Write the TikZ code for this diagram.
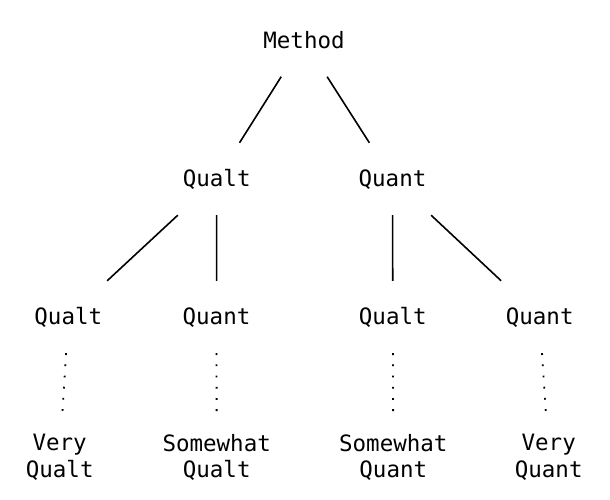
\documentclass[tikz,border=0pt]{standalone}
\usepackage{fontspec}
\setmonofont{DejaVu Sans Mono}
\begin{document}
\begin{tikzpicture}[x=1pt,y=-1pt,
  lab/.style={font=\ttfamily\fontsize{22.5}{26.6}\selectfont, text height=15.7pt, text depth=0pt,
    inner sep=0pt, minimum height=72pt, minimum width=120pt},
  leaf/.style={font=\ttfamily\fontsize{22.5}{26.6}\selectfont, align=center, inner xsep=0pt,
    inner ysep=23pt, anchor=north},
  edge/.style={line width=1.6pt},
  dots/.style={line width=1.8pt, dash pattern=on 1.8pt off 9.4pt}]
\useasboundingbox (0,0) rectangle (610,500);
\node[lab] (m) at (304,40.5) {Method};
\node[lab] (a) at (216.7,179) {Qualt};
\node[lab] (b) at (392.5,179) {Quant};
\node[lab] (aa) at (68.3,317) {Qualt};
\node[lab] (ab) at (216.5,317) {Quant};
\node[lab] (ba) at (392.8,317) {Qualt};
\node[lab] (bb) at (539.7,317) {Quant};
\node[leaf] (aal) at (59.7,411) {Very\\Qualt};
\node[leaf] (abl) at (216.7,411) {Somewhat\\Qualt};
\node[leaf] (bal) at (393.3,411) {Somewhat\\Quant};
\node[leaf] (bbl) at (548.7,411) {Very\\Quant};
\draw[edge] (m) -- (a);
\draw[edge] (m) -- (b);
\draw[edge] (a) -- (aa);
\draw[edge] (a) -- (ab);
\draw[edge] (b) -- (ba);
\draw[edge] (b) -- (bb);
\draw[dots] (aa) -- (aal);
\draw[dots] (ab) -- (abl);
\draw[dots] (ba) -- (bal);
\draw[dots] (bb) -- (bbl);
\end{tikzpicture}
\end{document}
